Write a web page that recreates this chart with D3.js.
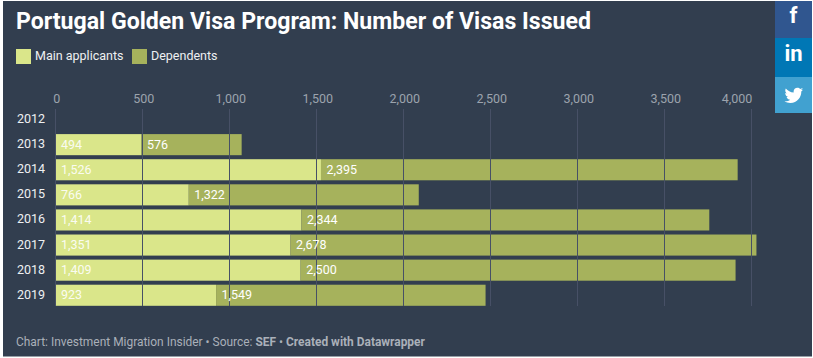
<!DOCTYPE html>
<html><head><meta charset="utf-8">
<script src="https://cdnjs.cloudflare.com/ajax/libs/d3/7.8.5/d3.min.js"></script>
<style>html,body{margin:0;padding:0;background:#fff}svg{display:block}text{font-family:Roboto,sans-serif}</style>
</head><body><svg id="c" width="813" height="358"></svg>
<script>
const years=["2012","2013","2014","2015","2016","2017","2018","2019"];
const mainApplicants=[0,494,1526,766,1414,1351,1409,923];
const dependents=[0,576,2395,1322,2344,2678,2500,1549];
const ticks=[0,500,1000,1500,2000,2500,3000,3500,4000];
const legendNames=["Main applicants","Dependents"];
const colors=["#dae68a","#a6b25c"];
const svg=d3.select("#c");
svg.append("rect").attr("x",3).attr("y",1).attr("width",809).attr("height",355.5).attr("fill","#323e4f");
svg.append("text").attr("x",16).attr("y",29).attr("font-size",23.1).attr("font-weight",700).attr("fill","#fff").text("Portugal Golden Visa Program: Number of Visas Issued");
const lx=[16,132];
legendNames.forEach((n,i)=>{
 svg.append("rect").attr("x",lx[i]).attr("y",49).attr("width",15).attr("height",15).attr("fill",colors[i]);
 svg.append("text").attr("x",lx[i]+19).attr("y",60).attr("font-size",12.5).attr("fill","#eef0f2").text(n);
});
const x=d3.scaleLinear().domain([0,4000]).range([55.5,751.4]);
const y=d3.scaleBand().domain(years).range([109,305.8]).paddingInner(0.16).paddingOuter(0);
const stack=[mainApplicants,dependents];
stack.forEach((vals,s)=>{
 svg.append("g").selectAll("rect").data(years).join("rect")
  .attr("x",(d,i)=>x(s?mainApplicants[i]:0)+(s?0:0.5))
  .attr("y",d=>y(d)).attr("height",y.bandwidth())
  .attr("width",(d,i)=>Math.max(0,x(vals[i])-x(0)-(s?0:0.5)))
  .attr("fill",colors[s]).attr("display",(d,i)=>vals[i]?null:"none");
});
svg.append("g").selectAll("line").data(ticks).join("line")
 .attr("x1",d=>Math.floor(x(d))+.5).attr("x2",d=>Math.floor(x(d))+.5).attr("y1",109).attr("y2",306)
 .attr("stroke","#475066").attr("stroke-width",1);
svg.append("g").selectAll("text").data(ticks).join("text")
 .attr("x",(d,i)=>i===ticks.length-1?x(d)+1:x(d)+1.3).attr("y",103)
 .attr("text-anchor",(d,i)=>i===ticks.length-1?"end":"middle").attr("font-size",12.5).attr("fill","#9ca3ad")
 .text(d=>d3.format(",")(d));
svg.append("g").selectAll("text").data(years).join("text")
 .attr("x",17).attr("y",d=>y(d)+14).attr("font-size",12.5).attr("fill","#eef0f2").text(d=>d);
stack.forEach((vals,s)=>{
 svg.append("g").selectAll("text").data(years).join("text")
  .attr("x",(d,i)=>x(s?mainApplicants[i]:0)+5.5)
  .attr("y",d=>y(d)+14.6).attr("font-size",12.5).attr("fill","#fff").attr("fill-opacity",s?1:0.9)
  .attr("display",(d,i)=>vals[i]?null:"none")
  .text((d,i)=>d3.format(",")(vals[i]));
});
svg.append("text").attr("x",16).attr("y",346).attr("font-size",11.95).attr("fill","#aab0b9")
 .html('Chart: Investment Migration Insider • Source: <tspan font-weight="700">SEF</tspan> • <tspan font-weight="700">Created with Datawrapper</tspan>');
const btn=[[1,37,"#30568f"],[38,39,"#0077b5"],[77,36,"#41a1d0"]];
btn.forEach(b=>svg.append("rect").attr("x",775).attr("y",b[0]).attr("width",37).attr("height",b[1]).attr("fill",b[2]));
svg.append("text").attr("x",793.5).attr("y",23).attr("text-anchor","middle").attr("font-size",22).attr("font-weight",700).attr("fill","#fff").text("f");
svg.append("text").attr("x",793.5).attr("y",61).attr("text-anchor","middle").attr("font-size",22).attr("font-weight",700).attr("fill","#fff").text("in");
svg.append("path").attr("transform","translate(784.5,86) scale(0.0365)").attr("fill","#fff")
 .attr("d","M459.4 151.7c.3 4.5.3 9.1.3 13.6 0 138.7-105.6 298.6-298.6 298.6-59.5 0-114.7-17.2-161.1-47.1 8.4 1 16.6 1.3 25.3 1.3 49.1 0 94.2-16.6 130.3-44.8-46.1-1-84.8-31.2-98.1-72.8 6.5 1 13 1.6 19.8 1.6 9.4 0 18.8-1.3 27.6-3.6-48.1-9.7-84.1-52-84.1-103v-1.3c14 7.8 30.2 12.7 47.4 13.3-28.3-18.8-46.8-51-46.8-87.4 0-19.5 5.2-37.4 14.3-53 51.7 63.7 129.3 105.3 216.4 109.8-1.6-7.8-2.6-15.9-2.6-24 0-57.8 46.8-104.9 104.9-104.9 30.2 0 57.5 12.7 76.7 33.1 23.7-4.5 46.5-13.3 66.6-25.3-7.8 24-24.4 44.2-46.1 57.2 21.1-2.3 41.6-8.1 60.4-16.2-14.3 20.8-32.2 39.3-52.6 54.3z");
</script></body></html>
